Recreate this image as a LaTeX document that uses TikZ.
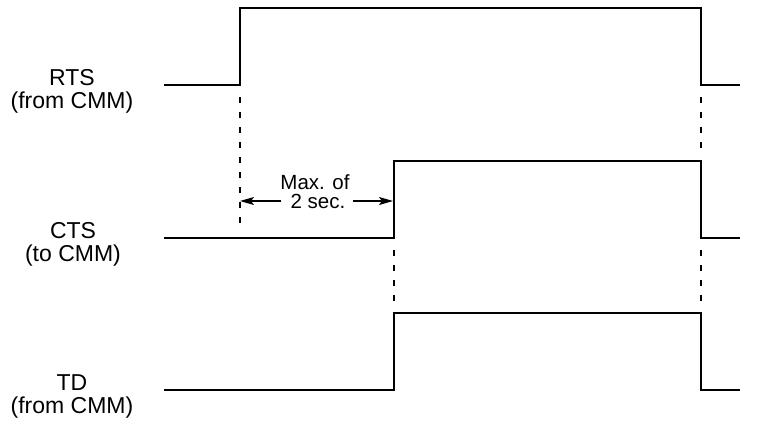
\documentclass[tikz,border=0pt]{standalone}
\usepackage{fontspec}
\setmainfont{Liberation Sans}
\usetikzlibrary{arrows.meta}
\begin{document}
\begin{tikzpicture}[x=1pt,y=-1pt,
  wave/.style={line width=2pt, line join=miter},
  guide/.style={line width=2pt, dash pattern=on 5.5pt off 9.5pt},
  sig/.style={align=center, anchor=base, font=\fontsize{23}{23}\selectfont, inner sep=0pt},
  note/.style={align=center, font=\fontsize{20.5}{19}\selectfont, inner sep=0pt},
  arr/.style={line width=1.3pt, -{Stealth[length=14pt,width=8pt,inset=3pt]}}]
\useasboundingbox (0,0) rectangle (770,420);
% labels
\node[sig] (rts) at (72,108) {RTS\\(from CMM)};
\node[sig] (cts) at (73,261) {CTS\\(to CMM)};
\node[sig] (td) at (72,413) {TD\\(from CMM)};
% waveforms
\draw[wave] (164,85) -- (240,85) -- (240,8) -- (701,8) -- (701,85) -- (740,85);
\draw[wave] (164,238) -- (394,238) -- (394,161) -- (701,161) -- (701,238) -- (740,238);
\draw[wave] (164,390) -- (394,390) -- (394,313) -- (701,313) -- (701,390) -- (740,390);
% guides
\draw[guide] (240,97) -- (240,224);
\draw[guide] (394,250) -- (394,302);
\draw[guide] (701,97) -- (701,149);
\draw[guide] (701,250) -- (701,302);
% timing annotation
\node[note, anchor=base] (max) at (315,208) {Max. of\\\hspace{6pt}2 sec.};
\coordinate (la) at (281,201);
\coordinate (ra) at (353,201);
\coordinate (lend) at (240,201);
\coordinate (rend) at (393,201);
\draw[arr] (la) -- (lend);
\draw[arr] (ra) -- (rend);
\end{tikzpicture}
\end{document}
